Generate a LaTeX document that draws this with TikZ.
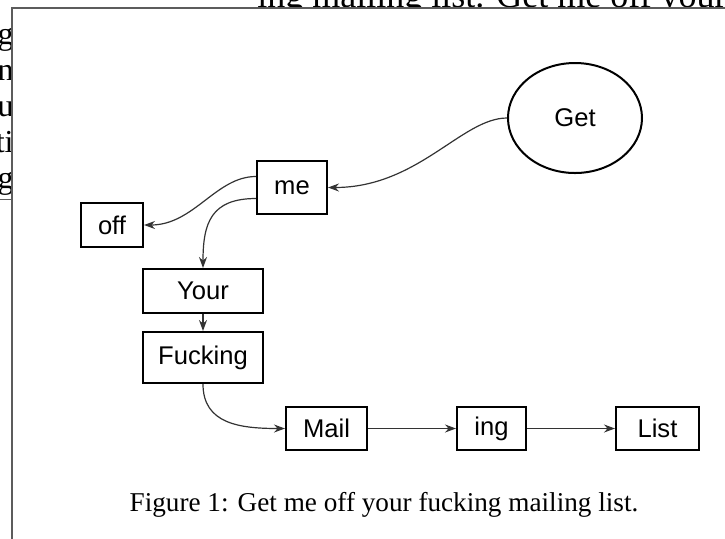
\documentclass[tikz,border=0pt]{standalone}
\definecolor{edgegray}{HTML}{333333}
\definecolor{framegray}{HTML}{5C5C5C}
\usepackage{fontspec}
\setmainfont{Liberation Serif}
\newfontfamily\boxfont{Liberation Sans}
\usetikzlibrary{arrows.meta}
\usetikzlibrary{shapes.geometric}

\begin{document}
\begin{tikzpicture}[x=0.5pt,y=-0.5pt,
		word/.style={draw=black,line width=1pt,inner sep=0pt,font=\boxfont\fontsize{12.8}{14}\selectfont},
		link/.style={draw=edgegray,line width=0.6pt,-{Stealth[length=5.5pt,width=4pt]}}]
		\useasboundingbox (0,0) rectangle (725,538);
		% page behind the window
		\begin{scope}
			\clip (0,0) rectangle (725,7.5);
			\node[anchor=base west,inner sep=0pt,font=\fontsize{18}{20}\selectfont] (pagetop) at (257,7) {ing mailing list. Get me off your};
		\end{scope}
		\begin{scope}
			\clip (0,0) rectangle (11.5,199);
			\foreach \i [count=\ii from 0] in {g, n, u, ti, g}
			\node[anchor=base east,inner sep=0pt,font=\fontsize{16}{18}\selectfont] (pageleft\ii) at (14,44+\ii*36) {\i};
		\end{scope}
		\draw[framegray,line width=0.4pt] (0,199) -- (12,199);
		\draw[framegray,line width=0.8pt] (12,545) -- (12,8) -- (735,8);
		% words
		\node[word,ellipse,minimum width=67pt,minimum height=55pt] (get) at (575,118) {Get};
		\node[word,minimum width=35pt,minimum height=26.5pt] (me) at (292,187.5) {me};
		\node[word,minimum width=31pt,minimum height=22pt] (off) at (112,225) {off};
		\node[word,minimum width=60pt,minimum height=22pt] (your) at (203,291) {Your};
		\node[word,minimum width=60pt,minimum height=25.5pt] (fucking) at (203,357.5) {Fucking};
		\node[word,minimum width=40.5pt,minimum height=21.5pt] (mail) at (326.5,428.5) {Mail};
		\node[word,minimum width=34.5pt,minimum height=21.5pt] (ing) at (491.5,428.5) {ing};
		\node[word,minimum width=41.5pt,minimum height=21.5pt] (list) at (657.5,428.5) {List};
		% links
		\draw[link] (get.west) .. controls +(-45,0) and +(90,0) .. (me.east);
		\draw[link] (me.163) .. controls +(-40,0) and +(50,0) .. (off.east);
		\draw[link] (me.197) .. controls +(-45,0) and +(0,-45) .. (your.north);
		\draw[link] (your) -- (fucking);
		\draw[link] (fucking.south) .. controls +(0,40) and +(-45,0) .. (mail.west);
		\draw[link] (mail) -- (ing);
		\draw[link] (ing) -- (list);
		\node[anchor=base,inner sep=0pt,font=\fontsize{13.6}{15}\selectfont] (caption) at (384,511) {Figure 1: Get me off your fucking mailing list.};
\end{tikzpicture}
\end{document}
